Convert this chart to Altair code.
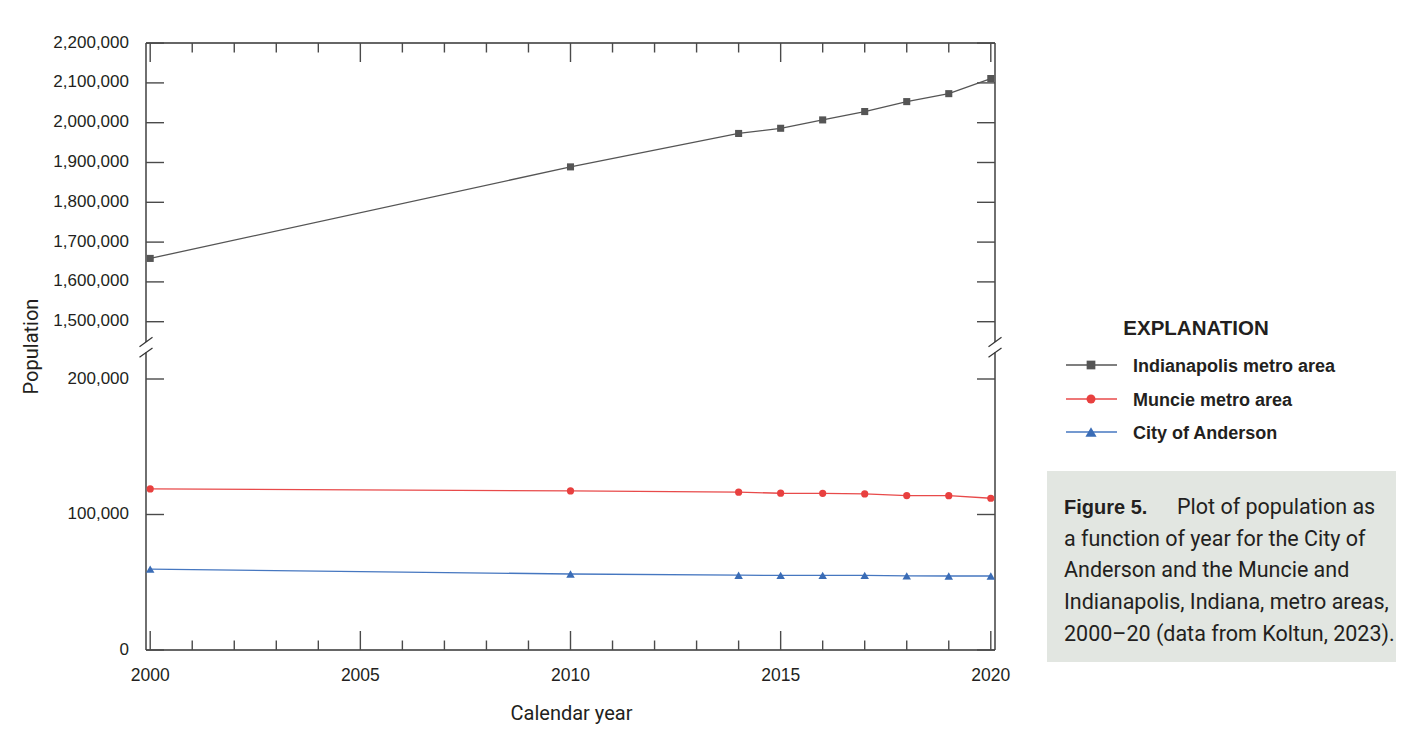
import altair as alt
import pandas as pd

# ---------------- data ----------------
years = [2000, 2010, 2014, 2015, 2016, 2017, 2018, 2019, 2020]
indianapolis = [1659000, 1889000, 1973000, 1986000, 2007000, 2028000, 2053000, 2073000, 2111000]
muncie = [118900, 117400, 116500, 115700, 115600, 115200, 114000, 113900, 112000]
anderson = [59700, 56100, 55200, 55100, 55100, 55100, 54700, 54600, 54600]

series_names = ["Indianapolis metro area", "Muncie metro area", "City of Anderson"]
series_values = [indianapolis, muncie, anderson]

low_ticks = [0, 100000, 200000]
high_ticks = [1500000, 1600000, 1700000, 1800000, 1900000, 2000000, 2100000, 2200000]
major_years = [2000, 2005, 2010, 2015, 2020]
minor_years = [2001, 2002, 2003, 2004, 2006, 2007, 2008, 2009,
               2011, 2012, 2013, 2014, 2016, 2017, 2018, 2019]

x_title = "Calendar year"
y_title = "Population"
legend_title = "EXPLANATION"
caption_bold = "Figure 5."
caption_first = "Plot of population as"
caption_rest = [
    "a function of year for the City of",
    "Anderson and the Muncie and",
    "Indianapolis, Indiana, metro areas,",
    "2000\u201320 (data from Koltun, 2023).",
]

# ---------------- styles / layout ----------------
series_colors = ["#555555", "#e8403f", "#3a6cb6"]
line_colors = ["#555555", "#e84a4a", "#4677c0"]
series_shapes = ["square", "circle", "triangle-up"]
point_sizes = [50, 52, 72]
legend_sizes = [76, 80, 125]

W, H = 849, 607
LOW_K = 271.0 / 200000          # px per person, lower (0-200,000) segment
HIGH_BASE = 328.3               # px height of 1,500,000 above the bottom
HIGH_K = 39.8 / 100000          # px per person, upper segment
yp_expr = (f"datum.v < 1000000 ? datum.v * {LOW_K} : "
           f"{HIGH_BASE} + (datum.v - 1500000) * {HIGH_K}")

NARROW = "Liberation Sans, Arial, sans-serif"
WIDE = "Roboto, Arial, sans-serif"
INK = "#231f20"
AXIS = "#333333"
TICK = "#4a4a4a"

xs = alt.Scale(domain=[1999.9, 2020.1], nice=False, zero=False)
ys = alt.Scale(domain=[0, H], nice=False, zero=False)

one = pd.DataFrame({"k": [0]})
layers = []


def seg(x1, y1, x2, y2, color=AXIS, w=1.4):
    return alt.Chart(one).mark_rule(color=color, strokeWidth=w).encode(
        x=alt.value(x1), y=alt.value(y1), x2=alt.value(x2), y2=alt.value(y2))


def label(text, x, y, size, font, weight="normal", align="left", angle=0):
    return alt.Chart(pd.DataFrame({"t": [text]})).mark_text(
        align=align, baseline="alphabetic", font=font, fontSize=size,
        fontWeight=weight, color=INK, angle=angle).encode(
        x=alt.value(x), y=alt.value(y), text="t:N")


# caption background
layers.append(alt.Chart(one).mark_rect(color="#e2e6e1").encode(
    x=alt.value(901), x2=alt.value(1270), y=alt.value(428), y2=alt.value(619)))

# frame (with break on the left and right axes)
GAP_TOP, GAP_BOT = 299, 309.6
layers += [
    seg(0, 0, W, 0), seg(0, H, W, H),
    seg(0, 0, 0, GAP_TOP), seg(0, GAP_BOT, 0, H),
    seg(W, 0, W, GAP_TOP), seg(W, GAP_BOT, W, H),
]
for bx in (0, W):
    for c in (GAP_TOP, GAP_BOT):
        layers.append(seg(bx - 6.5, c + 4.7, bx + 6.5, c - 4.7, color="#333333", w=1.2))

# x ticks
maj = pd.DataFrame({"year": major_years})
mnr = pd.DataFrame({"year": minor_years})
for df, ln in ((maj, 19), (mnr, 9.5)):
    base = alt.Chart(df).mark_rule(color=TICK, strokeWidth=1.4)
    layers.append(base.encode(x=alt.X("year:Q", scale=xs, axis=None),
                              y=alt.value(H), y2=alt.value(H - ln)))
    layers.append(base.encode(x=alt.X("year:Q", scale=xs, axis=None),
                              y=alt.value(0), y2=alt.value(ln)))

# x labels
layers.append(alt.Chart(maj).mark_text(
    align="center", baseline="alphabetic", font=NARROW, fontSize=17.5, color=INK).encode(
    x=alt.X("year:Q", scale=xs, axis=None), y=alt.value(638),
    text=alt.Text("year:Q", format="d")))

# y ticks + labels
yt = alt.Chart(pd.DataFrame({"v": low_ticks + high_ticks})).transform_calculate(yp=yp_expr)
ycode = alt.Y("yp:Q", scale=ys, axis=None)
layers.append(yt.mark_rule(color=TICK, strokeWidth=1.4).encode(
    y=ycode, x=alt.value(0), x2=alt.value(18)))
layers.append(yt.mark_rule(color=TICK, strokeWidth=1.4).encode(
    y=ycode, x=alt.value(W - 18), x2=alt.value(W)))
layers.append(yt.mark_text(
    align="right", baseline="alphabetic", dy=4.5, font=NARROW, fontSize=17, color=INK).encode(
    y=ycode, x=alt.value(-17), text=alt.Text("v:Q", format=",")))

# axis titles
layers.append(label(x_title, 425.5, 677, 20, WIDE, align="center"))
layers.append(label(y_title, -108, 303.5, 20, WIDE, align="center", angle=270))

# series
for name, vals, col, lcol, shp, sz in zip(series_names, series_values, series_colors,
                                          line_colors, series_shapes, point_sizes):
    df = pd.DataFrame({"year": years, "v": vals, "series": name})
    base = alt.Chart(df).transform_calculate(yp=yp_expr).encode(
        x=alt.X("year:Q", scale=xs, axis=None), y=ycode)
    layers.append(base.mark_line(color=lcol, strokeWidth=1.3))
    layers.append(base.mark_point(filled=True, shape=shp, size=sz, color=col, opacity=1))

# legend
layers.append(label(legend_title, 1050, 292, 20.5, NARROW, weight="bold", align="center"))
rows_y = [322, 356, 389]
for name, ry, col, lcol, shp, sz in zip(series_names, rows_y, series_colors,
                                        line_colors, series_shapes, legend_sizes):
    layers.append(seg(920, ry, 971, ry, color=lcol, w=1.4))
    layers.append(alt.Chart(one).mark_point(filled=True, shape=shp, size=sz, color=col,
                                            opacity=1).encode(x=alt.value(945), y=alt.value(ry)))
    layers.append(label(name, 987, ry + 6.5, 18, NARROW, weight="bold"))

# caption
layers.append(label(caption_bold, 918, 471, 20, NARROW, weight="bold"))
layers.append(label(caption_first, 1031, 471, 21.5, WIDE))
for i, line in enumerate(caption_rest):
    layers.append(label(line, 918, 471 + 31.7 * (i + 1), 21.5, WIDE))

chart = alt.layer(*layers).properties(
    width=W, height=H,
    padding={"left": 138, "top": 35, "right": 401, "bottom": 75},
    autosize=alt.AutoSizeParams(type="none"),
).configure_view(stroke="transparent")

chart.save("out.html", embed_options={"renderer": "svg", "actions": False})
